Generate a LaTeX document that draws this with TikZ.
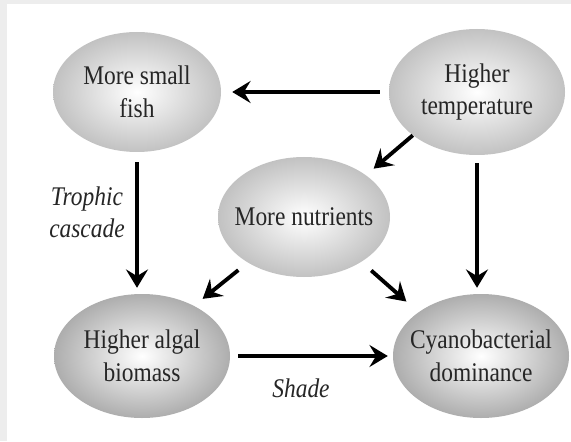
\documentclass[tikz,border=0pt]{standalone}
\usepackage{fontspec}
\setmainfont{Liberation Serif}[FakeStretch=0.87]
\usetikzlibrary{shapes.geometric,arrows.meta,positioning}

\begin{document}
\begin{tikzpicture}[
  bubble/.style={ellipse, inner xsep=-0.9cm, inner ysep=-0.4cm, minimum width=5.28cm, minimum height=3.72cm,
    shading=radial, inner color=white, outer color=black!24, text=black!85,
    align=center, font=\fontsize{23}{28}\selectfont},
  dark/.style={outer color=black!32},
  arr/.style={-{Stealth[length=0.55cm,width=0.66cm,inset=0.2cm]}, line width=3.3pt},
  lbl/.style={align=center, font=\itshape\fontsize{23}{27}\selectfont, text=black!85},
  node distance=2cm
]
% frame
\fill[black!7] (0,0) rectangle (17.13,-13.23);
\fill[white] (0.21,-0.12) rectangle (17.13,-13.23);
\useasboundingbox (0,0) rectangle (17.13,-13.23);

\node[bubble, minimum width=5.04cm, minimum height=3.6cm] (fish) at (4.11,-2.76) {More small\\fish};
\node[bubble, right of=fish, node distance=10.2cm, minimum height=3.78cm] (temp) {Higher\\temperature};
\node[bubble, right of=fish, node distance=5.01cm, yshift=-3.75cm, minimum width=5.16cm, minimum height=3.6cm] (nutr) {More nutrients};
\node[bubble, dark, below of=fish, node distance=7.92cm, xshift=0.15cm] (algal) {Higher algal\\biomass};
\node[bubble, dark, right of=algal, node distance=10.17cm] (cyano) {Cyanobacterial\\dominance};

\draw[arr, shorten <=0.27cm, shorten >=0.33cm] (temp.west) -- (fish.east);
\draw[arr, shorten <=0.3cm, shorten >=0.18cm] (fish.south) -- (fish.south |- algal.north);
\draw[arr, shorten <=0.24cm, shorten >=0.18cm] (temp.south) -- (temp.south |- cyano.north);
\draw[arr, shorten >=0.3cm] (temp.214) -- (nutr.34);
\draw[arr, shorten <=0.36cm, shorten >=0.33cm] (nutr.219) -- (algal.44);
\draw[arr, shorten <=0.39cm, shorten >=0.48cm] (nutr.322) -- (cyano.145);
\draw[arr, shorten <=0.24cm, shorten >=0.15cm] (algal.east) -- (cyano.west);

\node[lbl, below of=fish, node distance=3.6cm, xshift=-1.5cm] (cascade) {Trophic\\cascade};
\node[lbl, below of=nutr, node distance=5.13cm, xshift=-0.09cm] (shade) {Shade};
\end{tikzpicture}
\end{document}
